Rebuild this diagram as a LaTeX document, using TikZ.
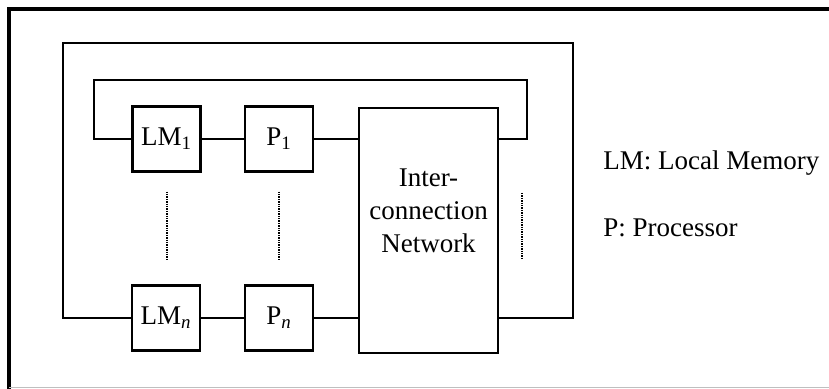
\documentclass[tikz,border=0pt]{standalone}
\usepackage{fontspec}
\setmainfont{Liberation Serif}
\usetikzlibrary{positioning}

\begin{document}
\begin{tikzpicture}[x=0.5pt,y=-0.5pt,
  every node/.style={font=\fontsize{13.5}{16.5}\selectfont},
  box/.style={draw,line width=1.1pt,minimum width=34pt,minimum height=32.5pt,inner sep=0pt},
  link/.style={line width=1.1pt},
  dots/.style={line width=1pt,dash pattern=on 0.7pt off 0.5pt}]
\useasboundingbox (0,0) rectangle (829,389);
% frame
\draw[line width=2pt] (9,389) -- (9,9) -- (829,9);
\draw[black!25,line width=0.5pt] (9,387.5) -- (829,387.5);
% processing elements
\node[box] (lm1) at (166.5,139) {LM\textsubscript{1}};
\node[box] (p1) at (279,139) {P\textsubscript{1}};
\node[box] (lmn) at (166,318) {LM\textsubscript{\textit{n}}};
\node[box] (pn) at (279,318) {P\textsubscript{\textit{n}}};
\node[box,minimum width=69.5pt,minimum height=122.5pt] (net) at (428.5,230.5) {};
\node[below=31pt of net.north,inner sep=0pt,align=center] (nettext) {Inter-\\connection\\Network};
% loops
\coordinate (tl) at (94,80);
\coordinate (tr) at (527,80);
\coordinate (bl) at (63,43);
\coordinate (br) at (573,43);
\draw[link] (lm1) -- (p1);
\draw[link] (p1) -- (p1 -| net.west);
\draw[link] (lmn) -- (pn);
\draw[link] (pn) -- (pn -| net.west);
\draw[link] (lm1.west) -| (tl) -- (tr) |- (net.east |- lm1);
\draw[link] (lmn.west) -| (bl) -- (br) |- (net.east |- lmn);
% dots
\foreach \n in {lm1,p1}
  \draw[dots] (\n.south) ++(0,19) -- ++(0,68);
\draw[dots] (522,193) -- (522,260);
% legend
\node[anchor=west,inner sep=0pt] (leglm) at (603,163) {LM: Local Memory};
\node[anchor=west,inner sep=0pt] (legp) at (603,228) {P: Processor};
\end{tikzpicture}
\end{document}
